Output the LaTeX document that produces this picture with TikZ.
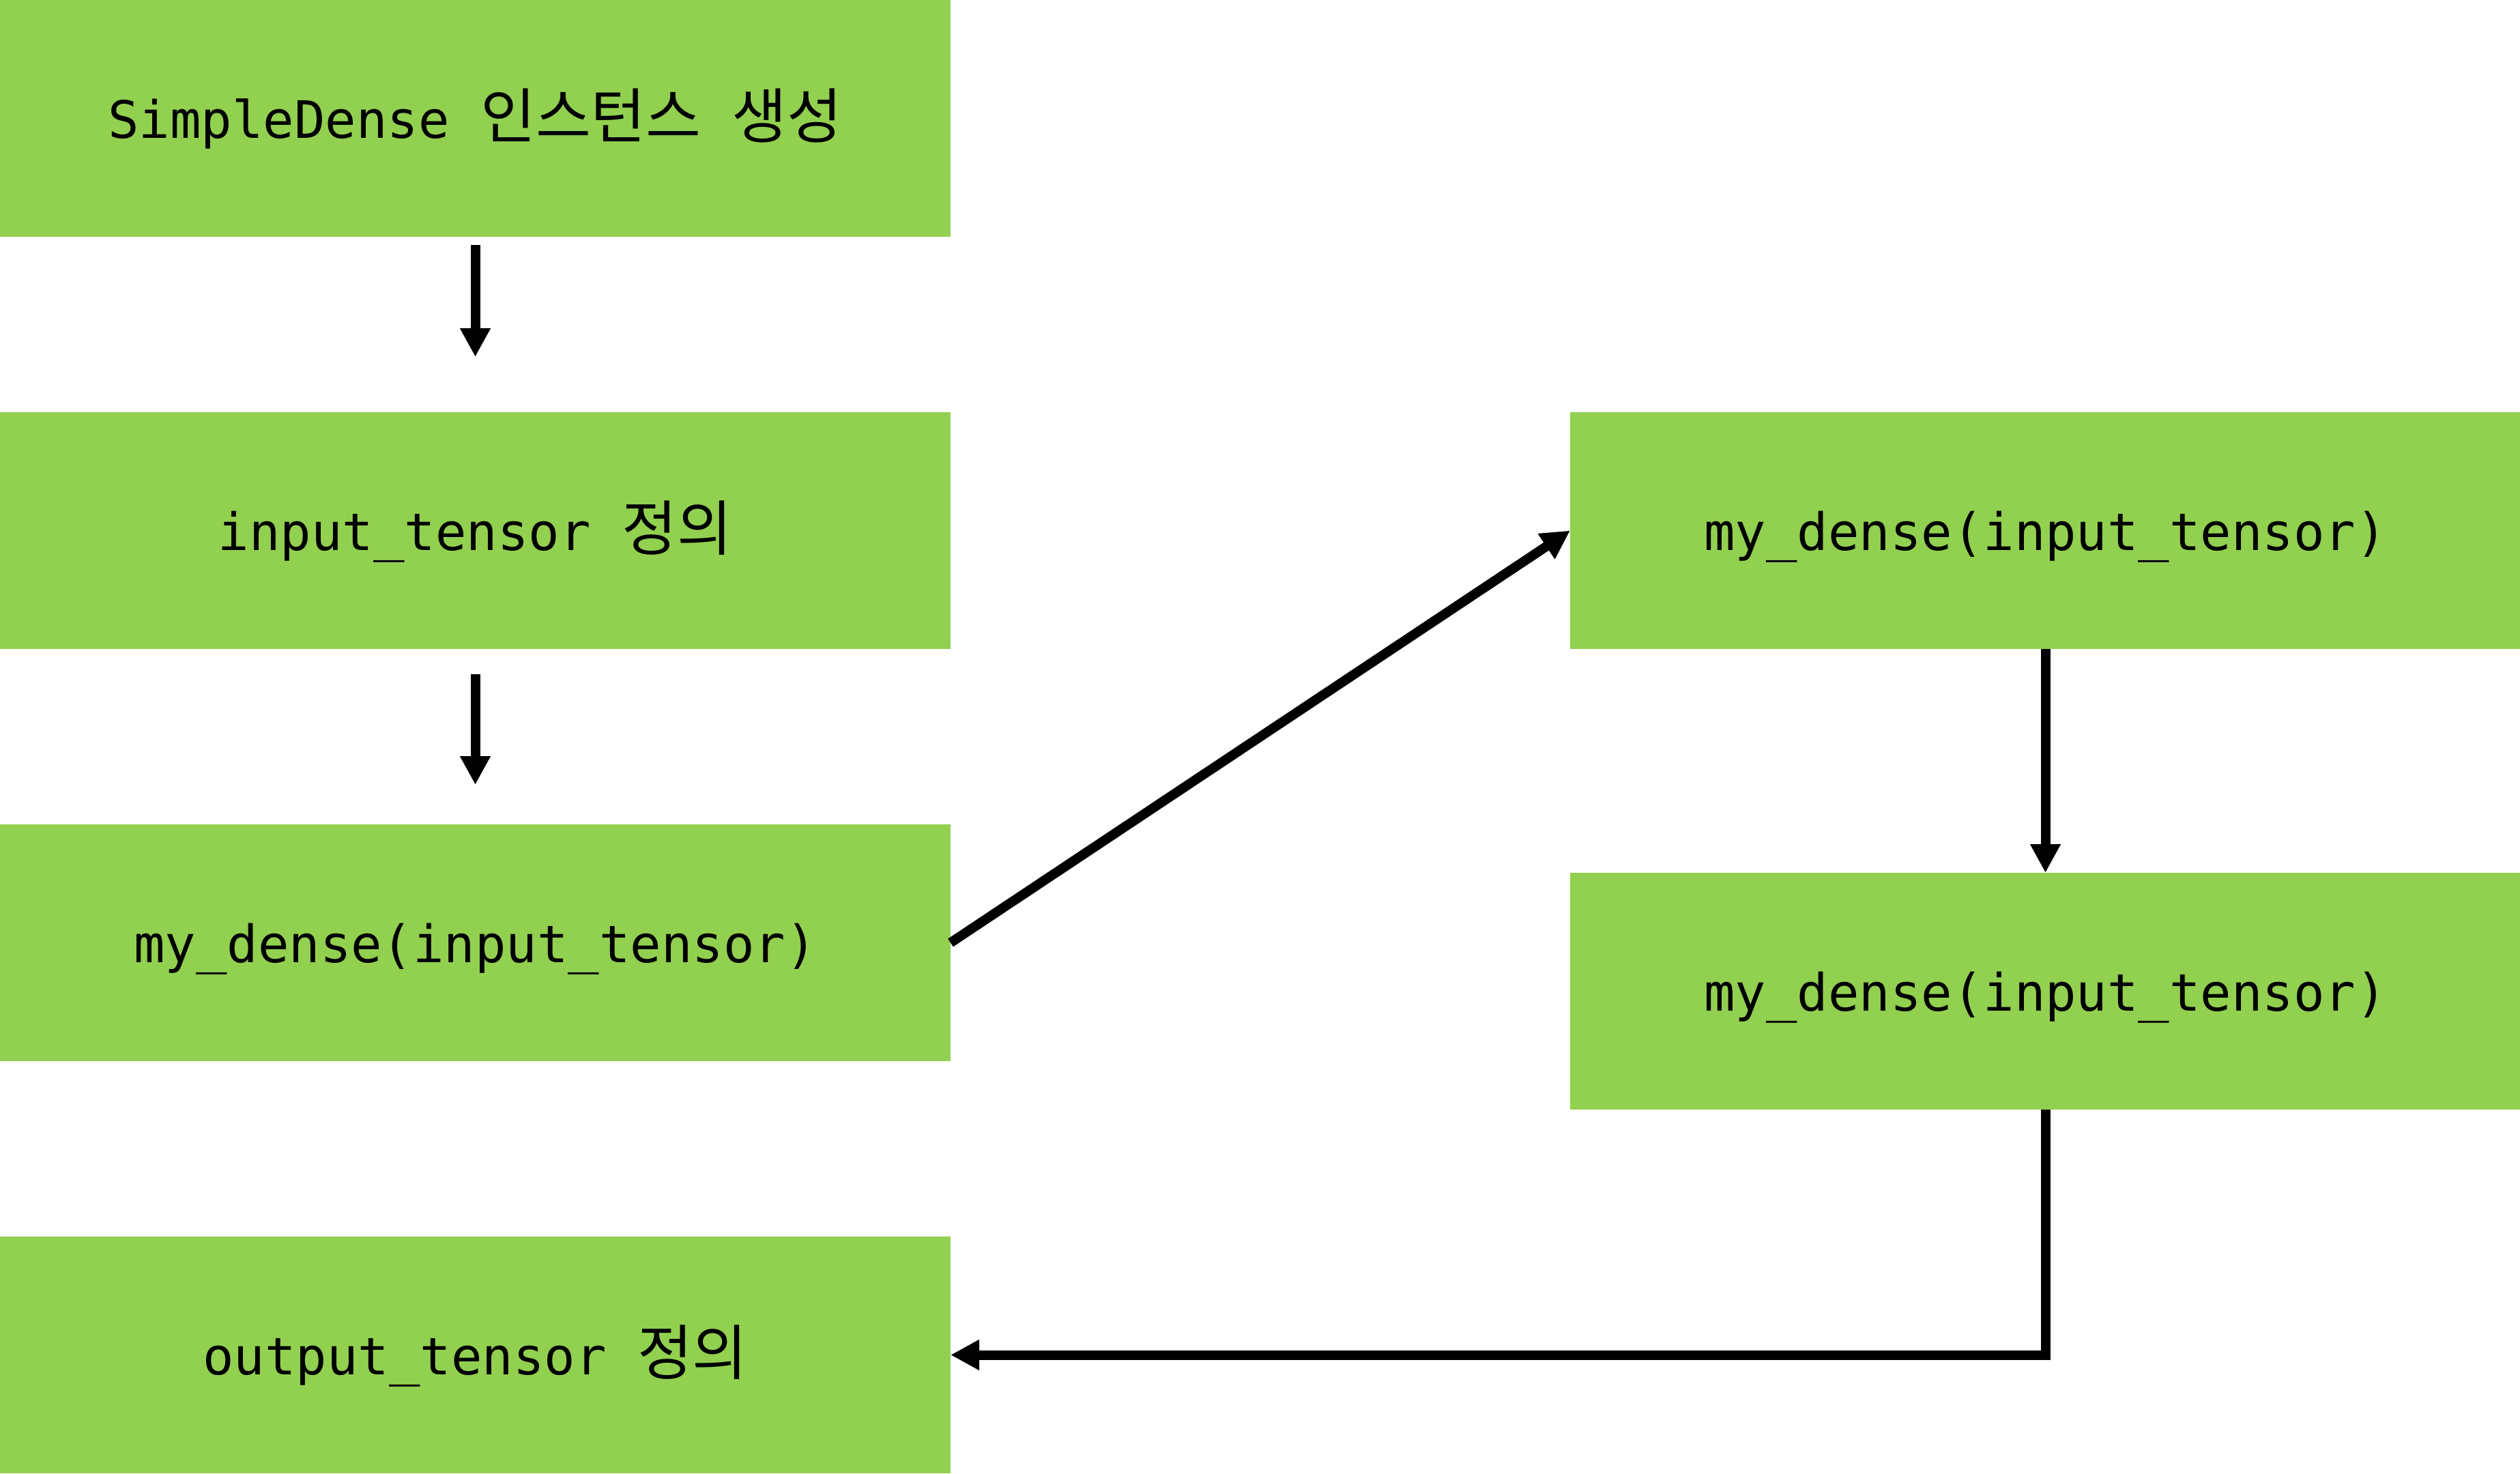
\documentclass[tikz,border=0pt]{standalone}
\usepackage{fontspec}
\setmonofont{DejaVu Sans Mono}
\newfontfamily\krfont{Noto Sans CJK KR}
\usepackage{tikz}
\usetikzlibrary{arrows.meta}
\usetikzlibrary{positioning}
\definecolor{stepgreen}{RGB}{146,208,80}
\newcommand{\kr}[1]{{\krfont\fontsize{25}{30}\selectfont #1}}

\begin{document}
\begin{tikzpicture}[
            every node/.style={rectangle,fill=stepgreen,inner sep=0pt,outer sep=0pt,
                minimum width=13.93cm,minimum height=3.47cm,
                text height=0.58cm,text depth=0cm,
                font=\ttfamily\fontsize{21.5}{26}\selectfont},
            node distance=2.57cm and 9.08cm
        ]
        \tikzset{>={Triangle[width=0.42cm,length=0.42cm]}}
        \tikzset{flow line/.style={draw,line width=0.14cm,->}}
        \useasboundingbox (0,0) rectangle (36.93,-21.6);
        \node (create node) at (6.965,-1.735) {SimpleDense \kr{인스턴스} \kr{생성}};
        \node[below=of create node] (input node) {input\_tensor \kr{정의}};
        \node[below=of input node] (call node) {my\_dense(input\_tensor)};
        \node[below=of call node] (output node) {output\_tensor \kr{정의}};
        \node[right=of input node] (first call) {my\_dense(input\_tensor)};
        \node[below=3.28cm of first call] (second call) {my\_dense(input\_tensor)};
        \draw[flow line,shorten <=0.12cm,shorten >=0.81cm] (create node) -- (input node);
        \draw[flow line,shorten <=0.37cm,shorten >=0.58cm] (input node) -- (call node);
        \draw[flow line] (call node.east) -- (first call.west);
        \draw[flow line] (first call) -- (second call);
        \draw[flow line] (second call.south) |- (output node.east);
    \end{tikzpicture}
\end{document}
